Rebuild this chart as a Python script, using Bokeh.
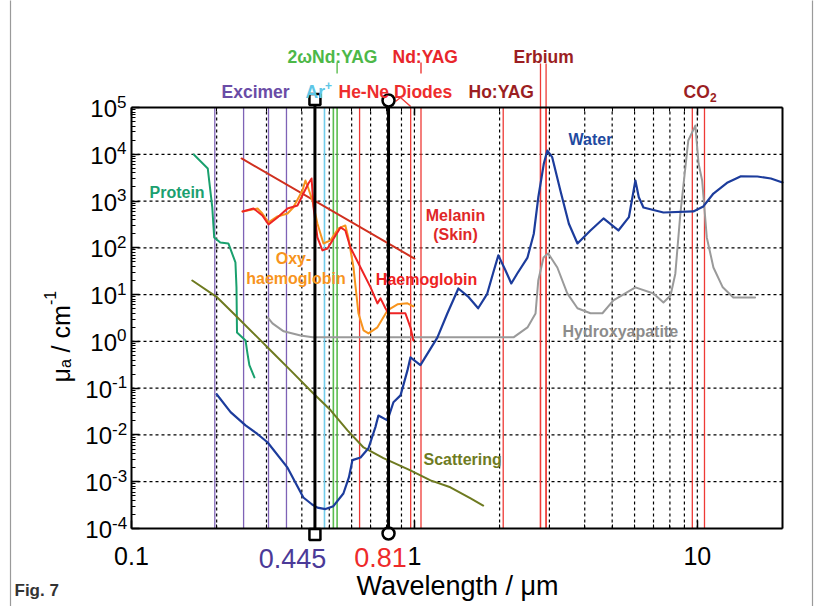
import numpy as np
from bokeh.plotting import figure
from bokeh.models import Label, FixedTicker, LogAxis, CustomJSTickFormatter
from bokeh.embed import file_html
from bokeh.resources import INLINE

# ---------------- data (wavelength in µm, absorption coefficient in 1/cm) ----------------
water_wl = [0.200, 0.224, 0.253, 0.278, 0.303, 0.356, 0.405, 0.435, 0.454, 0.485, 0.517, 0.561,
            0.587, 0.604, 0.645, 0.688, 0.728, 0.746, 0.803, 0.843, 0.893, 0.945, 0.968, 1.05,
            1.205, 1.306, 1.43, 1.556, 1.68, 1.808, 1.909, 1.98, 2.099, 2.20, 2.307, 2.51, 2.642,
            2.74, 2.866, 2.95, 3.069, 3.28, 3.515, 3.77, 4.19, 4.66, 5.26, 5.73, 6.04, 6.21, 6.45,
            7.59, 9.68, 10.5, 11.4, 12.8, 14.2, 16.3, 18.2, 20.0]
water_mu = [0.074, 0.0307, 0.016, 0.0106, 0.0069, 0.0020, 4.6e-4, 3.26e-4, 2.8e-4, 2.6e-4, 3.0e-4,
            5.6e-4, 1.25e-3, 2.9e-3, 3.3e-3, 5.2e-3, 0.0147, 0.026, 0.0205, 0.050, 0.070, 0.24,
            0.455, 0.31, 1.2, 3.89, 13.5, 8.8, 5.1, 10.4, 32.8, 69, 32.8, 17.3, 27.9, 62, 200, 1190,
            6250, 12000, 8670, 1680, 327, 124, 235, 425, 235, 452, 2750, 1210, 730, 570, 600, 767,
            1450, 2500, 3360, 3350, 3030, 2500]

hap_wl = [0.303, 0.315, 0.345, 0.396, 0.436, 1.45, 2.24, 2.51, 2.68, 2.74, 2.86, 2.97, 3.20, 3.47,
          3.77, 4.19, 4.62, 5.05, 6.04, 7.0, 7.59, 8.04, 8.36, 8.71, 9.29, 9.84, 10.1, 10.4, 10.8,
          11.4, 12.3, 13.4, 16.0]
hap_mu = [3.26, 2.43, 1.64, 1.34, 1.22, 1.22, 1.22, 1.99, 3.96, 20, 62, 76, 38, 10.6, 5.1, 4.0, 4.0,
          7.5, 14.3, 10.6, 6.8, 9.6, 28, 540, 19700, 41000, 6350, 2750, 167, 38, 14.3, 8.7, 8.7]

prot_wl = [0.166, 0.186, 0.193, 0.196, 0.206, 0.220, 0.233, 0.235, 0.236, 0.253, 0.257, 0.261, 0.272]
prot_mu = [9900, 4970, 730, 167, 130, 124, 49, 14.3, 1.55, 1.05, 0.55, 0.31, 0.17]

scat_wl = [0.164, 0.201, 0.229, 0.279, 0.318, 0.365, 0.436, 0.505, 0.580, 0.661, 0.777, 0.968,
           1.14, 1.34, 1.58, 1.75]
scat_mu = [20, 8.7, 4.0, 1.22, 0.55, 0.24, 0.081, 0.034, 0.0125, 0.0054, 0.0032, 0.00175, 0.00107,
           7.6e-4, 4.4e-4, 3.1e-4]

mel_wl = [0.245, 1.0]
mel_mu = [8130, 59]

hb_wl = [0.247, 0.270, 0.290, 0.305, 0.328, 0.356, 0.386, 0.405, 0.422, 0.433, 0.440, 0.454, 0.473,
         0.493, 0.513, 0.548, 0.570, 0.594, 0.645, 0.700, 0.740, 0.759, 0.790, 0.809, 0.871, 0.929,
         0.968, 0.991]
hb_mu = [600, 695, 492, 316, 447, 695, 805, 1450, 2380, 3040, 730, 167, 88, 97, 144, 273, 235, 102,
         38, 14.3, 6.5, 8.3, 5.1, 4.0, 4.0, 4.0, 2.0, 1.05]

hbo_wl = [0.247, 0.279, 0.290, 0.305, 0.328, 0.356, 0.373, 0.402, 0.412, 0.422, 0.436, 0.454, 0.477,
          0.505, 0.539, 0.570, 0.584, 0.609, 0.634, 0.661, 0.688, 0.740, 0.803, 0.871, 0.945, 0.991]
hbo_mu = [600, 695, 543, 349, 469, 543, 730, 1680, 2750, 1860, 1030, 332, 124, 144, 260, 301, 167,
          38, 4.0, 1.72, 1.48, 2.0, 4.6, 6.2, 6.5, 5.6]

excimer_wl = [0.197, 0.249, 0.305, 0.353]
argon_wl = [0.481]
green_wl = [0.517, 0.533]
red_wl = [0.64, 0.97, 1.055, 2.06, 2.79, 2.92, 9.6, 10.6]
erbium_wl = [2.79, 2.92]
probe_wl = [0.445, 0.81]
probe_labels = ["0.445", "0.81"]

x_major = [0.1, 1, 10]
x_minor = [0.2, 0.3, 0.4, 0.5, 0.6, 0.7, 0.8, 0.9, 2, 3, 4, 5, 6, 7, 8, 9, 20]
x_grid = [0.2, 0.3, 0.4, 0.5, 0.6, 0.7, 0.8, 0.9, 1, 2, 3, 4, 5, 6, 7, 8, 9, 10]
x_tick_labels = ["0.1", "1", "10"]
y_exp = [5, 4, 3, 2, 1, 0, -1, -2, -3, -4]
y_grid = [1e-3, 1e-2, 1e-1, 1, 10, 100, 1e3, 1e4]
XMIN, XMAX, YMIN, YMAX = 0.1, 20, 1e-4, 1e5

# ---------------- layout (page pixels) ----------------
W, H = 820, 606
FL, FT, FR, FB = 131, 107, 782, 528      # plot box on the page
XDEC = (FR - FL) / np.log10(XMAX / XMIN)
YDEC = (FB - FT) / np.log10(YMAX / YMIN)


def dx(px):      # page x -> wavelength
    return XMIN * 10 ** ((px - FL) / XDEC)


def dy(py):      # page y -> value
    return YMAX * 10 ** (-(py - FT) / YDEC)


FONT = "Liberation Sans"

# the frame covers the whole canvas so that labels outside the plot box are not clipped
p = figure(width=W, height=H, x_axis_type="log", y_axis_type="log",
           x_range=(dx(0), dx(W)), y_range=(dy(H), dy(0)),
           x_axis_location=None, y_axis_location=None,
           output_backend="svg", toolbar_location=None, min_border=0,
           background_fill_color="white", border_fill_color="white")
p.outline_line_color = None
p.grid.visible = False

blank = CustomJSTickFormatter(code="return ''")
y_ticks = [10.0 ** e for e in y_exp]
y_minor = [m * 10.0 ** e for e in range(-4, 5) for m in range(2, 10)]
axes = [
    (LogAxis(ticker=FixedTicker(ticks=x_major, minor_ticks=x_minor), fixed_location=YMIN,
             bounds=(XMIN, XMAX)), "below"),
    (LogAxis(ticker=FixedTicker(ticks=x_major, minor_ticks=x_minor), fixed_location=YMAX,
             bounds=(XMIN, XMAX)), "above"),
    (LogAxis(ticker=FixedTicker(ticks=y_ticks, minor_ticks=y_minor), fixed_location=XMIN,
             bounds=(YMIN, YMAX)), "left"),
    (LogAxis(ticker=FixedTicker(ticks=[], minor_ticks=[]), fixed_location=XMAX,
             bounds=(YMIN, YMAX)), "right"),
]
for ax, side in axes:
    ax.formatter = blank
    ax.axis_line_color = "black"
    ax.axis_line_width = 2
    ax.major_tick_in = 8
    ax.major_tick_out = 0
    ax.minor_tick_in = 4
    ax.minor_tick_out = 0
    ax.major_tick_line_width = 1.5
    ax.minor_tick_line_width = 1
    ax.major_tick_line_color = "black"
    ax.minor_tick_line_color = "black"
    ax.major_label_standoff = 0
    p.add_layout(ax, side)

# dashed grid inside the box
p.segment(x0=x_grid, x1=x_grid, y0=[YMIN] * len(x_grid), y1=[YMAX] * len(x_grid),
          line_color="black", line_dash="3 3", line_width=1.2)
p.segment(x0=[XMIN] * len(y_grid), x1=[XMAX] * len(y_grid), y0=y_grid, y1=y_grid,
          line_color="black", line_dash="3 3", line_width=1.2)

# thin grey page frame
p.segment(x0=[dx(10), dx(812)], x1=[dx(10), dx(812)], y0=[dy(H + 5)] * 2, y1=[dy(-5)] * 2,
          line_color="#9a9a9a", line_width=1.2)

# ---------------- laser lines ----------------
def vlines(wls, color, width=1.3, top=YMAX):
    p.segment(x0=wls, x1=wls, y0=[YMIN] * len(wls), y1=[top] * len(wls),
              line_color=color, line_width=width)


PURPLE = "#7E62B6"
CYAN = "#72CDEB"
GREEN = "#5BBD4E"
RED = "#EE3A36"
DARKRED = "#9B1E22"

vlines(excimer_wl, PURPLE)
vlines(argon_wl, CYAN, 1.6)
vlines(green_wl, GREEN, 1.6)
vlines(red_wl, RED)
vlines(erbium_wl, RED, 1.3, top=dy(63))          # Erbium lines reach up to their label

# short connectors from the upper labels
p.segment(x0=[green_wl[1], red_wl[2]], x1=[green_wl[1], red_wl[2]],
          y0=[dy(73)] * 2, y1=[dy(62)] * 2, line_color=[GREEN, RED], line_width=1.4)
p.line([dx(395), dx(400), red_wl[1]], [dy(101), dy(97), dy(106)], line_color=RED, line_width=1.4)

# ---------------- curves ----------------
CURVE = dict(line_join="round", line_cap="round")
p.line(prot_wl, prot_mu, line_color="#1AA06E", line_width=2, **CURVE)
p.line(scat_wl, scat_mu, line_color="#6E7A20", line_width=2, **CURVE)
p.line(hap_wl, hap_mu, line_color="#9A9A9A", line_width=2, **CURVE)
p.line(mel_wl, mel_mu, line_color="#D0301F", line_width=2, **CURVE)
p.line(hbo_wl, hbo_mu, line_color="#F7941D", line_width=2, **CURVE)
p.line(hb_wl, hb_mu, line_color="#EE2424", line_width=2, **CURVE)
p.line(water_wl, water_mu, line_color="#1C3C9C", line_width=2.2, **CURVE)

# probe wavelengths (black) with end markers
p.segment(x0=probe_wl, x1=probe_wl, y0=[dy(533)] * 2, y1=[dy(99)] * 2,
          line_color="black", line_width=3)
p.scatter([probe_wl[0]] * 2, [dy(99), dy(534)], marker="square", size=11,
          fill_color="white", line_color="black", line_width=2.5)
p.scatter([probe_wl[1]] * 2, [dy(100), dy(533)], marker="circle", size=12,
          fill_color="white", line_color="black", line_width=2.5)


def lab(px, py, text, color, size="16px", align="left", baseline="middle", style="bold", angle=0.0):
    p.add_layout(Label(x=dx(px), y=dy(py), text=text, text_color=color, text_font=FONT,
                       text_font_size=size, text_font_style=style, text_align=align,
                       text_baseline=baseline, angle=angle))


# ---------------- texts ----------------
TOP = "17.5px"
lab(287, 56, "2ωNd:YAG", "#4DB848", TOP)
lab(392, 56, "Nd:YAG", "#E8262B", TOP)
lab(513, 56, "Erbium", DARKRED, TOP)
lab(221, 91, "Excimer", "#6A4CA6", TOP)
lab(305, 91, "Ar", "#5EC6E6", TOP)
lab(324.5, 85, "+", "#5EC6E6", "12px")
lab(338, 91, "He-Ne Diodes", "#EE2D2D", TOP)
lab(468, 91, "Ho:YAG", DARKRED, TOP)
lab(683, 91, "CO", DARKRED, TOP)
lab(709.5, 97, "2", DARKRED, "12px")

lab(149, 192, "Protein", "#1BA070")
lab(293, 258, "Oxy-", "#F7941D", align="center")
lab(295.5, 278, "haemoglobin", "#F7941D", align="center")
lab(455, 215, "Melanin", "#E02828", align="center")
lab(455, 234, "(Skin)", "#E02828", align="center")
lab(426, 279, "Haemoglobin", "#EE2222", align="center")
lab(568, 139, "Water", "#1F4AA0")
lab(562, 331, "Hydroxyapatite", "#8C8C8C")
lab(423, 459, "Scattering", "#6E7B22")

# y tick labels
for e in y_exp:
    py = FT + (5 - e) * YDEC
    wexp = 9.5 if e >= 0 else 14.5
    lab(126 - wexp, py + 1, "10", "black", "24px", align="right", style="normal")
    lab(126 - wexp, py - 6, str(e), "black", "17px", align="left", style="normal")

# x tick labels
for v, wl in zip(x_tick_labels, x_major):
    p.add_layout(Label(x=wl, y=dy(555), text=v, text_color="black", text_font=FONT,
                       text_font_size="25px", text_align="center", text_baseline="alphabetic"))
lab(292, 558, probe_labels[0], "#4B3A98", "27px", align="center", baseline="alphabetic", style="normal")
lab(380, 557, probe_labels[1], "#EE2A2A", "27px", align="center", baseline="alphabetic", style="normal")

# axis titles
lab(457, 585, "Wavelength / μm", "black", "27px", align="center", baseline="alphabetic", style="normal")
R = np.pi / 2
lab(60, 382, "μ", "black", "25px", baseline="alphabetic", style="normal", angle=R)
lab(65, 367.6, "a", "black", "16px", baseline="alphabetic", style="normal", angle=R)
lab(60, 352.0, "/ cm", "black", "25px", baseline="alphabetic", style="normal", angle=R)
lab(49, 304.5, "-1", "black", "16px", baseline="alphabetic", style="normal", angle=R)

lab(14, 590, "Fig. 7", "#333333", "17px", baseline="middle")

open("out.html", "w").write(file_html(p, INLINE))
